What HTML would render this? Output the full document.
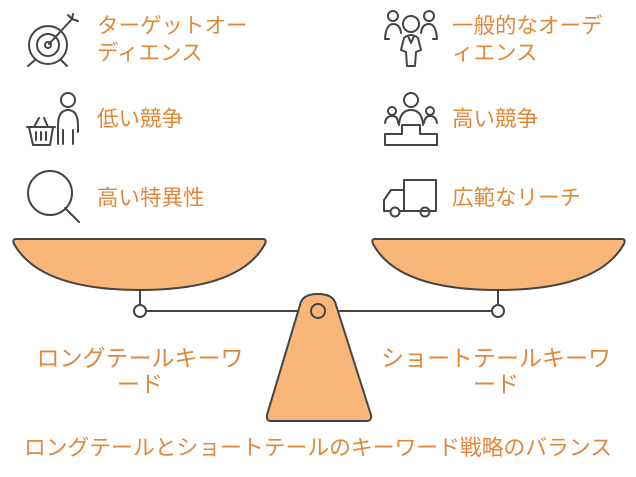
<!DOCTYPE html>
<html><head><meta charset="utf-8"><style>
html,body{margin:0;padding:0;background:#fff;width:636px;height:477px;overflow:hidden}
svg{display:block}
text{font-family:"Liberation Sans","Noto Sans CJK JP",sans-serif;fill:#e0873a;font-size:21.5px}
.i{fill:none;stroke:#444;stroke-width:2;stroke-linecap:round;stroke-linejoin:round}
</style></head><body>
<svg width="636" height="477" viewBox="0 0 636 477" xmlns="http://www.w3.org/2000/svg">
<g class="i">
<circle cx="48" cy="45" r="19"/><circle cx="48" cy="45" r="11"/><circle cx="48" cy="45" r="3"/>
<path d="M49 44 L72 19 M68 15 L72 19 L78 21 M73 14 L72 19"/>
<path d="M35 60 L28 66 M61 60 L67 66"/>
<circle cx="68" cy="100" r="7"/><path d="M58 144 V126 Q58 110 68 110 Q78 110 78 126 V132 M63 144 V130 M73 144 V130"/>
<path d="M27 127 H55 M29 127 L33 145 H50 L53 127 M36 132 V140 M41 132 V140 M46 132 V140 M34 127 L39 118 M48 127 L44 118"/>
<circle cx="50" cy="193" r="22"/><path d="M65 208 L79 222"/>
<circle cx="393" cy="16" r="5"/><circle cx="429" cy="16" r="5"/><circle cx="411" cy="24" r="8"/>
<path d="M385 39 Q386 24 393 24 Q400 24 401 33 M421 33 Q422 24 429 24 Q436 24 437 39 H433 M385 39 H389"/>
<path d="M401 50 L404 38 Q411 32 418 38 L421 50 L416 52 L415 66 H407 L406 52 Z M408 36 L411 43 L414 36"/>
<circle cx="411" cy="100" r="7"/><circle cx="392" cy="111" r="4"/><circle cx="430" cy="111" r="4"/>
<path d="M399 125 Q400 110 411 110 Q422 110 423 125 M385 123 Q386 116 392 116 Q398 116 398 123 M424 123 Q425 116 430 116 Q436 116 437 123"/>
<path d="M385 145 V134 H402 V125 H420 V134 H437 V145 Z"/>
<path d="M404 180 H436 V211 H404 Z M404 190 H391 L384 200 V211 H390 M400 211 H410 M423 211 H426"/>
<circle cx="395" cy="212" r="4.5"/><circle cx="425" cy="212" r="4.5"/>
</g>
<text x="97" y="33">ターゲットオー</text>
<text x="97" y="60">ディエンス</text>
<text x="97" y="126">低い競争</text>
<text x="97" y="205">高い特異性</text>
<text x="452" y="33">一般的なオーデ</text>
<text x="452" y="60">ィエンス</text>
<text x="452" y="126">高い競争</text>
<text x="452" y="205">広範なリーチ</text>
<g stroke="#444" stroke-width="2" fill="#f9b678">
<path d="M16 239 H263 Q267 239 265 244 Q240 290 140 290 Q40 290 14 244 Q12 239 16 239 Z"/>
<path d="M375 239 H622 Q626 239 624 244 Q598 290 498 290 Q398 290 373 244 Q371 239 375 239 Z"/>
<line x1="140" y1="290" x2="140" y2="305" fill="none"/>
<line x1="498" y1="290" x2="498" y2="305" fill="none"/>
<line x1="146" y1="311" x2="492" y2="311" fill="none"/>
<circle cx="140" cy="311" r="6" fill="#fff"/>
<circle cx="498" cy="311" r="6" fill="#fff"/>
<path d="M300 305 Q302 294 318 294 Q334 294 336 305 L371 415 Q372 421 366 421 H271 Q266 421 267 415 Z"/>
<circle cx="318" cy="311" r="7"/>
</g>
<g text-anchor="middle" style="font-size:23px">
<text x="140" y="366" style="font-size:23px">ロングテールキーワ</text>
<text x="140" y="392" style="font-size:23px">ード</text>
<text x="496" y="366" style="font-size:23px">ショートテールキーワ</text>
<text x="496" y="392" style="font-size:23px">ード</text>
<text x="318" y="455" style="font-size:21.8px">ロングテールとショートテールのキーワード戦略のバランス</text>
</g>
</svg>
</body></html>
